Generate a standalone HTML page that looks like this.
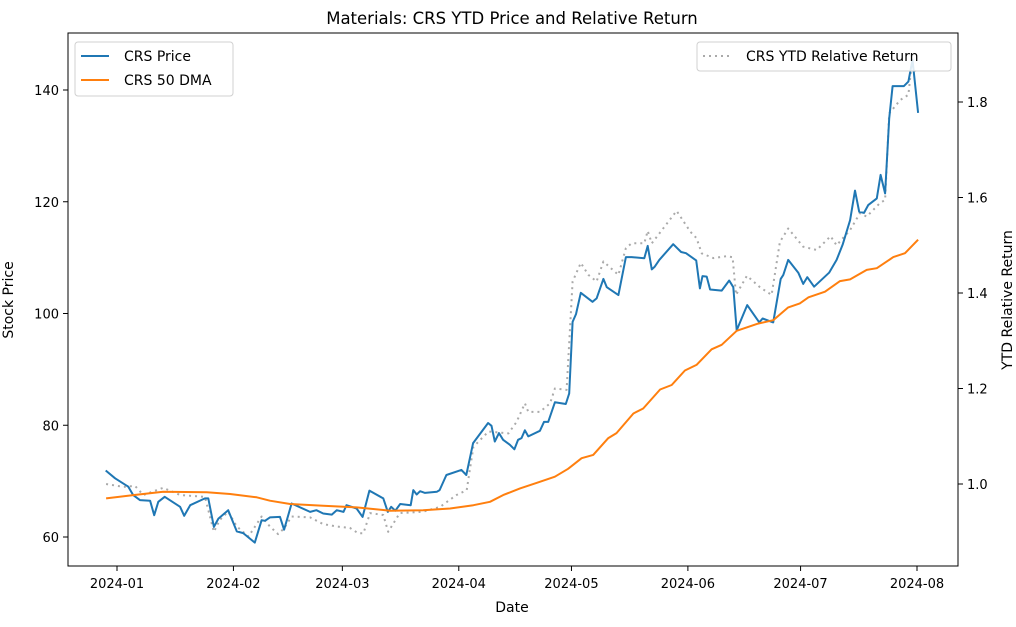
<!DOCTYPE html>
<html><head><meta charset="utf-8"><style>
body{margin:0;background:#fff;font-family:"Liberation Sans","DejaVu Sans",sans-serif}
svg text{font-family:"DejaVu Sans","Liberation Sans",sans-serif}
</style></head><body>
<svg id="chart" width="1016" height="622" viewBox="0 0 1016 622" xmlns="http://www.w3.org/2000/svg"></svg>
<script>
// Data: day offsets from 2024-01-01 and values
const priceDays=[-3,-0.5,3,4.3,6.1,8.8,9.9,11,12.7,16.8,17.9,19.5,23.4,24.3,25.8,27,29.6,31.9,33.6,36.7,38.5,39.4,40.7,43.4,44.5,46.5,51.4,53.1,54.9,57.2,58.5,60.3,61.1,63.8,65.4,67.2,70.9,72.1,73,74.1,75.4,78.2,78.9,79.8,80.7,82,85.2,85.9,87.7,91.7,93,94.8,98.8,99.7,100.6,101.7,102.8,104.6,105.8,106.8,107.7,108.6,109.5,112.6,113.7,114.8,116.6,119.5,120.4,121.3,122.2,123.5,126.6,127.7,129.5,130.4,133.5,135.5,137,140.4,141.3,142.4,143.2,144.4,148.1,150.2,151.5,154.2,155.2,155.9,157,157.9,161,163,164.1,165,167.8,171,171.9,174.7,176.7,177.4,178.7,181.4,182.7,183.8,185.6,189.6,191.6,193.2,195.2,196.5,197.6,198.9,200,202.3,203.3,204.5,205.6,206.5,209.5,210.7,211.8,213.3];
const priceVals=[71.9,70.5,69.0,67.5,66.6,66.5,63.9,66.3,67.2,65.4,63.8,65.7,66.9,66.9,61.8,63.3,64.8,61.0,60.7,59.0,63.0,62.9,63.5,63.6,61.3,66.0,64.5,64.8,64.2,64.0,64.8,64.5,65.7,65.1,63.6,68.3,66.9,64.5,65.4,64.7,65.9,65.7,68.4,67.6,68.2,67.9,68.1,68.4,71.1,72.0,71.1,76.8,80.4,79.9,77.1,78.6,77.4,76.5,75.7,77.4,77.7,79.1,78.0,79.0,80.6,80.6,84.1,83.8,85.7,98.5,99.9,103.7,102.1,102.7,106.2,104.7,103.3,110.1,110.1,109.9,112.1,107.9,108.4,109.6,112.4,111.0,110.8,109.5,104.5,106.7,106.6,104.3,104.1,105.9,104.7,97.0,101.5,98.4,99.1,98.4,106.2,106.9,109.6,107.3,105.3,106.5,104.8,107.3,109.6,112.3,116.7,122.0,118.2,118.0,119.4,120.6,124.8,121.5,134.9,140.7,140.7,141.5,145.4,135.9];
const dmaDays=[-2.9,4.3,12.3,23.9,30.1,37.2,40.7,46.1,54.9,63.8,72.7,81.5,88.7,94.9,99.3,102.8,107.3,111.8,116.6,120.1,123.7,126.8,130.8,133,137.5,140.1,144.6,147.7,151.2,154.3,158.3,161,165,170.7,174.7,178.7,181.8,184.1,188.5,192.5,195.2,199.6,202.3,206.7,209.8,213.3];
const dmaVals=[66.9,67.5,68.1,68.0,67.7,67.1,66.5,65.9,65.6,65.3,64.7,64.8,65.1,65.7,66.3,67.5,68.7,69.7,70.8,72.2,74.1,74.7,77.7,78.6,82.1,83.0,86.4,87.2,89.8,90.8,93.6,94.4,96.9,98.2,98.8,101.1,101.8,102.9,103.9,105.8,106.1,107.8,108.1,110.1,110.8,113.2];
const relDays=[-2.9,1.7,4.8,7,12.3,16.8,23.4,25.8,27.4,29.6,31.9,35,38.5,40.7,42.9,44.5,46.5,51.4,54.9,58.5,62,64.2,65.6,67.4,70.9,72.2,75.3,81.5,86,90.4,93.1,94.9,98.9,104.2,106.4,108.6,109.5,112.6,115.3,116.6,119.7,121.3,123.5,125.5,127.7,129.5,133.5,135.5,137,140.4,141.3,142.4,149,152.7,154.3,155.7,158.8,162.3,163.9,164.8,167.7,171.2,174.3,176.5,178.7,182.7,186.3,190,191.6,195.2,197.8,199.6,203.1,204.5,205.6,208.5,210.7,211.6,212.5];
const relVals=[1.0,0.994,0.996,0.977,0.992,0.977,0.973,0.90,0.925,0.942,0.911,0.89,0.932,0.911,0.895,0.907,0.932,0.930,0.916,0.911,0.908,0.897,0.897,0.939,0.935,0.90,0.939,0.942,0.952,0.977,0.987,1.078,1.110,1.106,1.130,1.169,1.151,1.151,1.169,1.200,1.197,1.424,1.463,1.438,1.424,1.466,1.438,1.494,1.504,1.504,1.530,1.504,1.572,1.528,1.515,1.483,1.473,1.477,1.475,1.396,1.436,1.412,1.396,1.507,1.535,1.497,1.490,1.519,1.500,1.532,1.567,1.560,1.588,1.595,1.776,1.804,1.815,1.881,1.863];
const xTickDays=[0,31,60,91,121,152,182,213];
const xTickLabels=["2024-01","2024-02","2024-03","2024-04","2024-05","2024-06","2024-07","2024-08"];
const yLeftTicks=[60,80,100,120,140];
const yRightTicks=[1.0,1.2,1.4,1.6,1.8];

const L=68,R=958,T=33,B=566;
const xS=d=>117+d*(800/213);
const yL=v=>537-(v-60)*(447/80);
const yR=v=>484-(v-1.0)*(382/0.8);
const NS="http://www.w3.org/2000/svg";
const svg=document.getElementById('chart');
function mk(tag,attrs,parent){const e=document.createElementNS(NS,tag);for(const k in attrs)e.setAttribute(k,attrs[k]);(parent||svg).appendChild(e);return e;}
function txt(s,attrs){const e=mk('text',attrs);e.textContent=s;return e;}

// series
function line(days,vals,ys,stroke,w,dash,name){
  const p=days.map((d,i)=>(i?'L':'M')+xS(d).toFixed(1)+' '+ys(vals[i]).toFixed(1)).join(' ');
  const el=mk('path',{d:p,fill:'none',stroke:stroke,'stroke-width':w,'stroke-linejoin':'round'});
  if(dash)el.setAttribute('stroke-dasharray',dash);
  
  
}
line(relDays,relVals,yR,'#aaaaaa',2,'2 4','relative-return-line');
line(priceDays,priceVals,yL,'#1f77b4',2,null,'price-line');
line(dmaDays,dmaVals,yL,'#ff7f0e',2,null,'dma-line');

// frame
const fr=mk('rect',{x:L,y:T,width:R-L,height:B-T,fill:'none',stroke:'#000','stroke-width':1});



// x ticks
xTickDays.forEach((d,i)=>{
  const x=xS(d);
  mk('line',{x1:x,x2:x,y1:B,y2:B+5,stroke:'#000'});
  const t=txt(xTickLabels[i],{x:x,y:B+22,'text-anchor':'middle','font-size':13,fill:'#000'});
  
  
});
yLeftTicks.forEach(v=>{
  const y=yL(v);
  mk('line',{x1:L-5,x2:L,y1:y,y2:y,stroke:'#000'});
  const t=txt(String(v),{x:L-9,y:y+5,'text-anchor':'end','font-size':13,fill:'#000'});
  
  
});
yRightTicks.forEach(v=>{
  const y=yR(v);
  mk('line',{x1:R,x2:R+5,y1:y,y2:y,stroke:'#000'});
  const t=txt(v.toFixed(1),{x:R+9,y:y+5,'text-anchor':'start','font-size':13,fill:'#000'});
  
  
});
</script>
<svg style="position:absolute;left:0;top:0" width="1016" height="622" xmlns="http://www.w3.org/2000/svg">
  <text x="512" y="24" text-anchor="middle" font-size="16.5" fill="#000">Materials: CRS YTD Price and Relative Return</text>
  <text x="512" y="612" text-anchor="middle" font-size="14" fill="#000">Date</text>
  <text transform="translate(13,300) rotate(-90)" text-anchor="middle" font-size="14" fill="#000">Stock Price</text>
  <text transform="translate(1012,300) rotate(-90)" text-anchor="middle" font-size="14" fill="#000">YTD Relative Return</text>
  <g>
    <rect x="75" y="42" width="158" height="54" rx="3" fill="#fff" fill-opacity="0.85" stroke="#d0d0d0"/>
    <line x1="81" x2="109" y1="56" y2="56" stroke="#1f77b4" stroke-width="2"/>
    <text x="124" y="61" font-size="14" fill="#000">CRS Price</text>
    <line x1="81" x2="109" y1="80" y2="80" stroke="#ff7f0e" stroke-width="2"/>
    <text x="124" y="85" font-size="14" fill="#000">CRS 50 DMA</text>
  </g>
  <g>
    <rect x="697" y="42" width="254" height="29" rx="3" fill="#fff" fill-opacity="0.85" stroke="#d0d0d0"/>
    <line x1="703" x2="731" y1="56" y2="56" stroke="#aaaaaa" stroke-width="2" stroke-dasharray="2 4"/>
    <text x="746" y="61" font-size="14" fill="#000">CRS YTD Relative Return</text>
  </g>
</svg>
</body></html>
